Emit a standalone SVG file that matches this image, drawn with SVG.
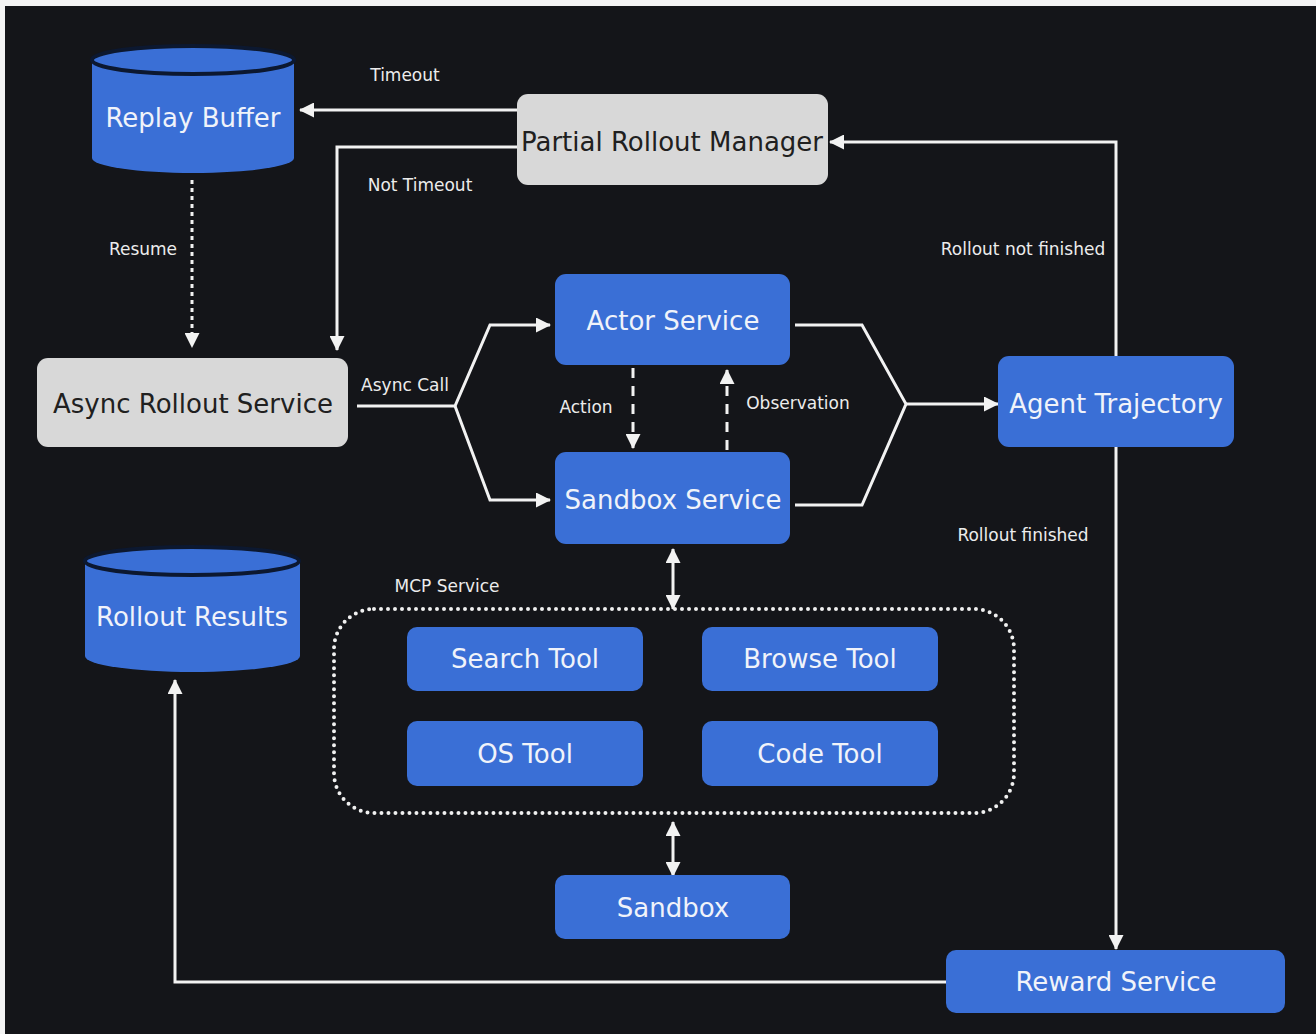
<svg xmlns="http://www.w3.org/2000/svg" width="1316" height="1034" viewBox="0 0 1316 1034">
  <defs>
    <marker id="head" viewBox="0 0 15 15" refX="14" refY="7.5" markerWidth="15" markerHeight="15" markerUnits="userSpaceOnUse" orient="auto-start-reverse">
      <path d="M0,0 L15,7.5 L0,15 Z" fill="#f2f2f2"/>
    </marker>
    <style>
      .bg { fill: #141519; }
      .blue { fill: #3a6fd6; }
      .gray { fill: #d8d8d8; }
      .rim { fill: #3a6fd6; stroke: #0c1830; stroke-width: 4; }
      .nt { font-family: "DejaVu Sans", "Liberation Sans", sans-serif; font-size: 26px; text-anchor: middle; fill: #f0f3fa; }
      .nt.dark { fill: #202020; }
      .lbl { font-family: "DejaVu Sans", "Liberation Sans", sans-serif; font-size: 17px; text-anchor: middle; fill: #ececec; }
      .wire { fill: none; stroke: #f2f2f2; stroke-width: 3; stroke-linejoin: miter; }
      .dash { stroke-dasharray: 10 8; }
      .dots { stroke-dasharray: 4 4; }
      .mcp { fill: none; stroke: #f0f0f0; stroke-width: 4; stroke-linecap: round; stroke-dasharray: 0 7; }
    </style>
  </defs>

  <!-- canvas with light strip along top and left edges -->
  <rect x="0" y="0" width="1316" height="1034" fill="#f4f4f4"/>
  <rect class="bg" x="5" y="6" width="1311" height="1028"/>

  <!-- connectors -->
  <g id="connectors">
    <path class="wire" d="M517,110 H300" marker-end="url(#head)"/>
    <path class="wire" d="M517,147 H337 V350" marker-end="url(#head)"/>
    <path class="wire dots" d="M192,180 V347" marker-end="url(#head)"/>
    <path class="wire" d="M357,406 H455 L490,325 H550" marker-end="url(#head)"/>
    <path class="wire" d="M455,406 L490,500 H550" marker-end="url(#head)"/>
    <path class="wire dash" d="M633,368 V448" marker-end="url(#head)"/>
    <path class="wire dash" d="M727,450 V370" marker-end="url(#head)"/>
    <path class="wire" d="M795,325 H862 L906,404 L862,505 H795"/>
    <path class="wire" d="M906,404 H998" marker-end="url(#head)"/>
    <path class="wire" d="M1116,356 V142 H830" marker-end="url(#head)"/>
    <path class="wire" d="M1116,447 V949" marker-end="url(#head)"/>
    <path class="wire" d="M946,982 H175 V680" marker-end="url(#head)"/>
    <path class="wire" d="M673,549 V609" marker-start="url(#head)" marker-end="url(#head)"/>
    <path class="wire" d="M673,822 V876" marker-start="url(#head)" marker-end="url(#head)"/>

    <text class="lbl" x="405" y="81">Timeout</text>
    <text class="lbl" x="420" y="191">Not Timeout</text>
    <text class="lbl" x="143" y="255">Resume</text>
    <text class="lbl" x="405" y="391">Async Call</text>
    <text class="lbl" x="586" y="413">Action</text>
    <text class="lbl" x="798" y="409">Observation</text>
    <text class="lbl" x="1023" y="255">Rollout not finished</text>
    <text class="lbl" x="1023" y="541">Rollout finished</text>
  </g>

  <g id="replay-buffer">
    <path class="blue" d="M92,60 V158 A101,15 0 0 0 294,158 V60 Z"/>
    <ellipse class="rim" cx="193" cy="60" rx="101" ry="14"/>
    <text class="nt" x="193" y="127">Replay Buffer</text>
  </g>

  <g id="partial-rollout-manager">
    <rect class="gray" x="517" y="94" width="311" height="91" rx="11"/>
    <text class="nt dark" x="672" y="151">Partial Rollout Manager</text>
  </g>

  <g id="async-rollout-service">
    <rect class="gray" x="37" y="358" width="311" height="89" rx="11"/>
    <text class="nt dark" x="193" y="413">Async Rollout Service</text>
  </g>

  <g id="actor-service">
    <rect class="blue" x="555" y="274" width="235" height="91" rx="11"/>
    <text class="nt" x="673" y="330">Actor Service</text>
  </g>

  <g id="sandbox-service">
    <rect class="blue" x="555" y="452" width="235" height="92" rx="11"/>
    <text class="nt" x="673" y="509">Sandbox Service</text>
  </g>

  <g id="agent-trajectory">
    <rect class="blue" x="998" y="356" width="236" height="91" rx="11"/>
    <text class="nt" x="1116" y="413">Agent Trajectory</text>
  </g>

  <g id="mcp-service">
    <rect class="mcp" x="334" y="609" width="680" height="204" rx="40"/>
    <text class="lbl" x="447" y="592">MCP Service</text>
  </g>

  <g id="search-tool">
    <rect class="blue" x="407" y="627" width="236" height="64" rx="10"/>
    <text class="nt" x="525" y="668">Search Tool</text>
  </g>

  <g id="browse-tool">
    <rect class="blue" x="702" y="627" width="236" height="64" rx="10"/>
    <text class="nt" x="820" y="668">Browse Tool</text>
  </g>

  <g id="os-tool">
    <rect class="blue" x="407" y="721" width="236" height="65" rx="10"/>
    <text class="nt" x="525" y="763">OS Tool</text>
  </g>

  <g id="code-tool">
    <rect class="blue" x="702" y="721" width="236" height="65" rx="10"/>
    <text class="nt" x="820" y="763">Code Tool</text>
  </g>

  <g id="sandbox">
    <rect class="blue" x="555" y="875" width="235" height="64" rx="10"/>
    <text class="nt" x="673" y="917">Sandbox</text>
  </g>

  <g id="rollout-results">
    <path class="blue" d="M85,561 V656 A107,16 0 0 0 300,656 V561 Z"/>
    <ellipse class="rim" cx="192" cy="561" rx="107" ry="14"/>
    <text class="nt" x="192" y="626">Rollout Results</text>
  </g>

  <g id="reward-service">
    <rect class="blue" x="946" y="950" width="339" height="63" rx="10"/>
    <text class="nt" x="1116" y="991">Reward Service</text>
  </g>
</svg>
